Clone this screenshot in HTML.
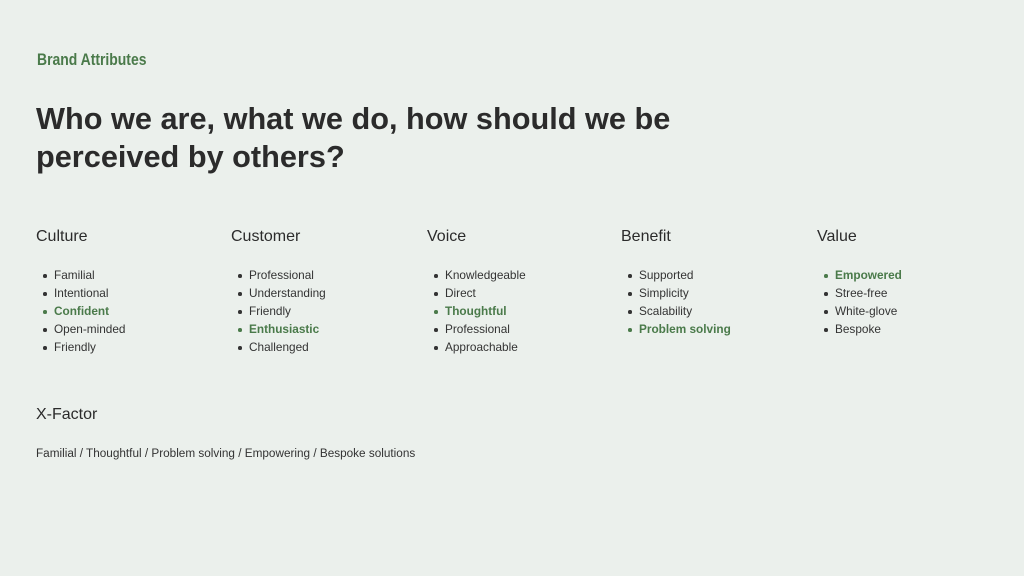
<!DOCTYPE html>
<html><head><meta charset="utf-8"><style>
body{margin:0;width:1024px;height:576px;background:#ebf0ec;font-family:"Liberation Sans",sans-serif;color:#2b2b2b;position:relative;overflow:hidden}
.brand{position:absolute;left:37px;top:50px;font-family:"Liberation Sans Narrow","Liberation Sans",sans-serif;font-weight:bold;font-size:17px;color:#4a7a4a;transform:scaleX(0.82);transform-origin:left}
h1{position:absolute;left:36px;top:100px;margin:0;font-size:30.7px;line-height:38px;font-weight:bold;letter-spacing:0;color:#2b2b2b}
.col{position:absolute;top:227px}
.col h2{margin:0;font-size:16px;font-weight:normal;line-height:20px;color:#2b2b2b}
.col ul{margin:0;padding:0;list-style:none;position:absolute;top:39px;left:0;white-space:nowrap}
.col li{font-size:11.8px;line-height:18px;padding-left:18px;position:relative;color:#333}
.col li:before{content:"";position:absolute;left:7px;top:8px;width:3.5px;height:3.5px;border-radius:50%;background:#333}
.col li.g{color:#4a7a4a;font-weight:bold}
.col li.g:before{background:#4a7a4a}
.xf{position:absolute;left:36px;top:406px;font-size:16px}
.xl{position:absolute;left:36px;top:447px;font-size:11.75px;color:#333}
</style></head><body>
<div class="brand">Brand Attributes</div>
<h1>Who we are, what we do, how should we be<br>perceived by others?</h1>
<div class="col" style="left:36px"><h2>Culture</h2><ul><li>Familial</li><li>Intentional</li><li class="g">Confident</li><li>Open-minded</li><li>Friendly</li></ul></div>
<div class="col" style="left:231px"><h2>Customer</h2><ul><li>Professional</li><li>Understanding</li><li>Friendly</li><li class="g">Enthusiastic</li><li>Challenged</li></ul></div>
<div class="col" style="left:427px"><h2>Voice</h2><ul><li>Knowledgeable</li><li>Direct</li><li class="g">Thoughtful</li><li>Professional</li><li>Approachable</li></ul></div>
<div class="col" style="left:621px"><h2>Benefit</h2><ul><li>Supported</li><li>Simplicity</li><li>Scalability</li><li class="g">Problem solving</li></ul></div>
<div class="col" style="left:817px"><h2>Value</h2><ul><li class="g">Empowered</li><li>Stree-free</li><li>White-glove</li><li>Bespoke</li></ul></div>
<div class="xf">X-Factor</div>
<div class="xl">Familial / Thoughtful / Problem solving / Empowering / Bespoke solutions</div>
</body></html>
